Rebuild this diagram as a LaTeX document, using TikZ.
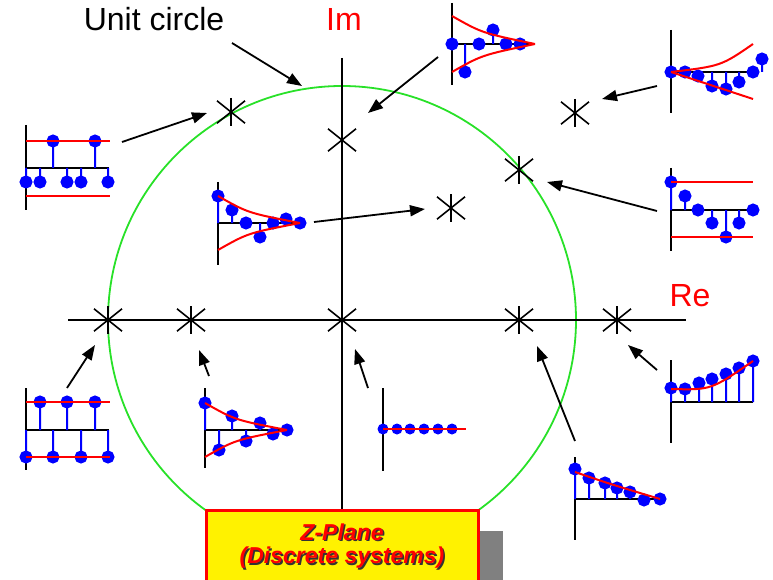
\documentclass[tikz,border=0pt]{standalone}
\usepackage{fontspec}
\setmainfont{Liberation Sans}
\usetikzlibrary{arrows.meta,calc}

\definecolor{ucgreen}{RGB}{40,225,40}
\definecolor{shadowgray}{RGB}{128,128,128}

\tikzset{
  axisline/.style={line width=1.6pt,black},
  stemline/.style={line width=2pt,blue},
  envline/.style={line width=2pt,red},
  polemark/.style={line width=1.6pt,black},
  pointer/.style={line width=1.8pt,-{Triangle[length=15pt,width=11pt]}},
}

\begin{document}
\begin{tikzpicture}[x=1pt,y=-1pt]

    \useasboundingbox (0,0) rectangle (773,580);

    % パラメータの定義
    \pgfmathsetmacro{\cx}{342}
    \pgfmathsetmacro{\cy}{320}
    \pgfmathsetmacro{\r}{234}
    \pgfmathsetmacro{\s}{14}
    \pgfmathsetmacro{\d}{5.5}

    \coordinate (O) at (\cx,\cy);

    % 極の位置
    \coordinate (p1) at (231,112);
    \coordinate (p2) at (342,140);
    \coordinate (p3) at (575,113);
    \coordinate (p4) at (519,170);
    \coordinate (p5) at (451,208);
    \coordinate (p6) at (108,320);
    \coordinate (p7) at (191,320);
    \coordinate (p8) at (342,320);
    \coordinate (p9) at (519,320);
    \coordinate (p10) at (617,320);

    % 単位円を描画
    \draw[line width=1.8pt,ucgreen] (O) circle [radius=\r];

    % 軸を描画
    \draw[line width=1.5pt] (68,\cy) -- (686,\cy);
    \draw[line width=1.5pt] (\cx,58) -- (\cx,512);

    % ラベル
    \node[anchor=base,font=\fontsize{32}{36}\selectfont] (ucl) at (154,31) {Unit circle};
    \node[anchor=base,red,font=\fontsize{32}{36}\selectfont] (iml) at (344,31) {Im};
    \node[anchor=base,red,font=\fontsize{32}{36}\selectfont] (rel) at (690,306) {Re};

    % 極（×印）
    \foreach \p in {p1,p2,p3,p4,p5,p6,p7,p8,p9,p10} {
        \draw[polemark] ($(\p)+(0,-\s)$) -- ($(\p)+(0,\s)$);
        \draw[polemark] ($(\p)+(-\s,-0.8*\s)$) -- ($(\p)+(\s,0.8*\s)$);
        \draw[polemark] ($(\p)+(-\s,0.8*\s)$) -- ($(\p)+(\s,-0.8*\s)$);
    }

    % 矢印の端点
    \coordinate (u0) at (232,43);  \coordinate (u1) at (302,86);
    \coordinate (a1) at (122,142); \coordinate (b1) at (207,113);
    \coordinate (a2) at (438,57);  \coordinate (b2) at (368,113);
    \coordinate (a3) at (657,86);  \coordinate (b3) at (602,99);
    \coordinate (a4) at (657,211); \coordinate (b4) at (547,182);
    \coordinate (a5) at (314,222); \coordinate (b5) at (425,209);
    \coordinate (a6) at (67,388);  \coordinate (b6) at (95,345);
    \coordinate (a7) at (209,376); \coordinate (b7) at (199,350);
    \coordinate (a8) at (368,388); \coordinate (b8) at (355,349);
    \coordinate (a9) at (575,441); \coordinate (b9) at (537,346);
    \coordinate (a10) at (657,370); \coordinate (b10) at (628,345);

    % 矢印を描画
    \foreach \i in {1,...,10}
        \draw[pointer] (a\i) -- (b\i);
    \draw[pointer] (u0) -- (u1);

    % 応答波形 1
    \begin{scope}[shift={(26,168)}]
        \draw[axisline] (0,-43) -- (0,42);
        \draw[axisline] (0,0) -- (83,0);
        \foreach \n/\v in {0/14,14/14,27/-27,41/14,55/14,69/-27,82/14}
            \draw[stemline] (\n,0) -- (\n,\v) [fill=blue] circle (\d);
        \draw[envline] (0,-27) -- (84,-27);
        \draw[envline] (0,28) -- (84,28);
    \end{scope}

    % 応答波形 2
    \begin{scope}[shift={(452,44)}]
        \draw[axisline] (0,-41) -- (0,41);
        \draw[axisline] (0,0) -- (81,0);
        \foreach \n/\v in {0/0,13/28,27/0,41/-14,54/0,68/0}
            \draw[stemline] (\n,0) -- (\n,\v) [fill=blue] circle (\d);
        \draw[envline] (0,-28) .. controls (30,-11) .. (83,0);
        \draw[envline] (0,28) .. controls (30,11) .. (83,0);
    \end{scope}

    % 応答波形 3
    \begin{scope}[shift={(671,72)}]
        \draw[axisline] (0,-42) -- (0,41);
        \draw[axisline] (0,0) -- (82,0);
        \foreach \n/\v in {0/0,14/0,27/4,41/14,55/17,68/10,82/0,91/-13}
            \draw[stemline] (\n,0) -- (\n,\v) [fill=blue] circle (\d);
        \draw[envline] (0,0) .. controls (50,-6) .. (82,-28);
        \draw[envline] (0,0) -- (82,27);
    \end{scope}

    % 応答波形 4
    \begin{scope}[shift={(671,210)}]
        \draw[axisline] (0,-42) -- (0,41);
        \draw[axisline] (0,0) -- (82,0);
        \foreach \n/\v in {0/-28,14/-14,27/0,41/13,55/27,68/13,82/0}
            \draw[stemline] (\n,0) -- (\n,\v) [fill=blue] circle (\d);
        \draw[envline] (0,-28) -- (82,-28);
        \draw[envline] (0,27) -- (82,27);
    \end{scope}

    % 応答波形 5
    \begin{scope}[shift={(218,223)}]
        \draw[axisline] (0,-41) -- (0,42);
        \draw[axisline] (0,0) -- (82,0);
        \foreach \n/\v in {0/-27,14/-13,28/0,42/14,55/0,68/-4,82/0}
            \draw[stemline] (\n,0) -- (\n,\v) [fill=blue] circle (\d);
        \draw[envline] (0,-27) .. controls (30,-10) .. (82,0);
        \draw[envline] (0,27) .. controls (30,10) .. (82,0);
    \end{scope}

    % 応答波形 6
    \begin{scope}[shift={(26,430)}]
        \draw[axisline] (0,-42) -- (0,40);
        \draw[axisline] (0,0) -- (83,0);
        \foreach \n/\v in {0/27,14/-28,27/27,41/-28,55/27,69/-28,82/27}
            \draw[stemline] (\n,0) -- (\n,\v) [fill=blue] circle (\d);
        \draw[envline] (0,-28) -- (84,-28);
        \draw[envline] (0,27) -- (84,27);
    \end{scope}

    % 応答波形 7
    \begin{scope}[shift={(205,430)}]
        \draw[axisline] (0,-42) -- (0,38);
        \draw[axisline] (0,0) -- (82,0);
        \foreach \n/\v in {0/-27,14/20,27/-14,41/11,55/-7,68/4,82/0}
            \draw[stemline] (\n,0) -- (\n,\v) [fill=blue] circle (\d);
        \draw[envline] (0,-27) .. controls (30,-10) .. (82,0);
        \draw[envline] (0,27) .. controls (30,10) .. (82,0);
    \end{scope}

    % 応答波形 8
    \begin{scope}[shift={(383,429)}]
        \draw[axisline] (0,-41) -- (0,42);
        \draw[axisline] (0,0) -- (83,0);
        \foreach \n in {0,14,27,41,55,69}
            \fill[blue] (\n,0) circle (\d);
        \draw[envline] (0,0) -- (83,0);
    \end{scope}

    % 応答波形 9
    \begin{scope}[shift={(575,499)}]
        \draw[axisline] (0,-42) -- (0,41);
        \draw[axisline] (0,0) -- (85,0);
        \foreach \n/\v in {0/-30,14/-21,30/-16,42/-11,55/-7,69/1,85/0}
            \draw[stemline] (\n,0) -- (\n,\v) [fill=blue] circle (\d);
        \draw[envline] (0,-27) .. controls (35,-15) .. (85,0);
    \end{scope}

    % 応答波形 10
    \begin{scope}[shift={(671,402)}]
        \draw[axisline] (0,-42) -- (0,41);
        \draw[axisline] (0,0) -- (82,0);
        \foreach \n/\v in {0/-14,14/-13,28/-19,41/-23,55/-28,68/-34,82/-41}
            \draw[stemline] (\n,0) -- (\n,\v) [fill=blue] circle (\d);
        \draw[envline] (0,-13) .. controls (40,-12) .. (82,-41);
    \end{scope}

    % タイトルの枠
    \fill[shadowgray] (479,531) rectangle (503,584);
    \draw[line width=3pt,red,fill=yellow] (206,510) rectangle (478,586);
    \node[font=\fontsize{23}{26}\selectfont\bfseries\itshape,text=black!80] (zps) at (343.5,533.5) {Z-Plane};
    \node[font=\fontsize{23}{26}\selectfont\bfseries\itshape,text=red] (zp) at (342,532) {Z-Plane};
    \node[font=\fontsize{23}{26}\selectfont\bfseries\itshape,text=black!80] (dss) at (343.5,559.5) {(Discrete systems)};
    \node[font=\fontsize{23}{26}\selectfont\bfseries\itshape,text=red] (ds) at (342,558) {(Discrete systems)};

\end{tikzpicture}
\end{document}
